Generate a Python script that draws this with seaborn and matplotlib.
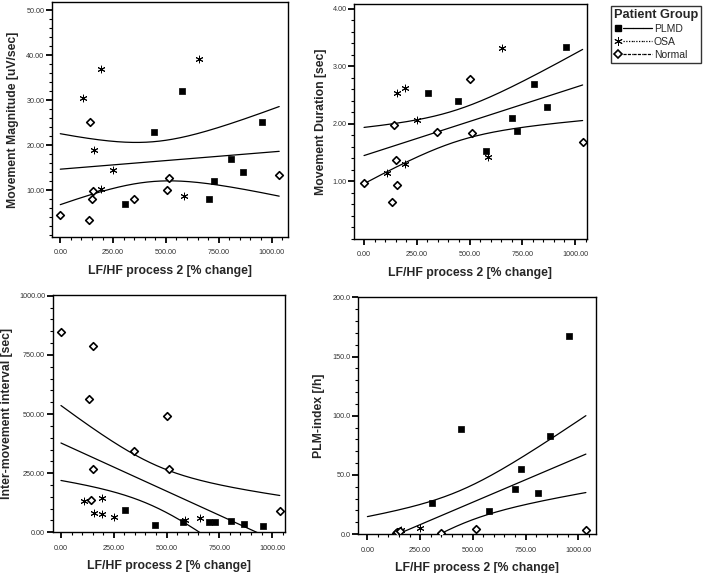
import numpy as np
import pandas as pd
import matplotlib
matplotlib.use("Agg")
import matplotlib.pyplot as plt
import seaborn as sns
from matplotlib.lines import Line2D
from matplotlib.legend_handler import HandlerTuple
from matplotlib.ticker import MultipleLocator, FormatStrFormatter

# LF/HF process 2 [% change] for each subject
plmd_x = [305, 445, 578, 702, 727, 807, 866, 956]
osa_x = [107, 158, 192, 192, 249, 586, 656]
normal_x = [0, 134, 142, 150, 154, 348, 504, 513, 1036]

# Movement Magnitude [uV/sec]
plmd_mag = [7.0, 23.0, 32.0, 8.0, 12.0, 17.0, 14.1, 25.1]
osa_mag = [30.5, 19.0, 37.0, 10.2, 14.4, 8.8, 39.1]
normal_mag = [4.5, 3.3, 25.1, 8.1, 9.9, 8.1, 10.1, 12.6, 13.3]

# Movement Duration [sec]
plmd_dur = [2.53, 2.39, 1.52, 2.11, 1.88, 2.69, 2.30, 3.34]
osa_dur = [1.14, 2.54, 2.62, 1.30, 2.07, 1.42, 3.31]
normal_dur = [0.97, 0.65, 1.98, 1.37, 0.93, 1.86, 2.77, 1.84, 1.68]

# Inter-movement interval [sec]
plmd_imi = [96, 30, 45, 44, 44, 49, 34, 27]
osa_imi = [134, 80, 144, 78, 66, 52, 62]
normal_imi = [848, 563, 137, 789, 269, 342, 490, 269, 92]

# PLM-index [/h]
plmd_plm = [26.2, 88.7, 19.2, 38.0, 54.6, 34.6, 83.1, 167.0]
osa_plm = [0, 3.5, 0, 0, 4.8, 0, 0]
normal_plm = [0, 0.5, 1.5, 0, 2.5, 0.8, 0, 4.5, 3.1]

groups = ["PLMD", "OSA", "Normal"]

df = pd.DataFrame({
    "group": ["PLMD"] * len(plmd_x) + ["OSA"] * len(osa_x) + ["Normal"] * len(normal_x),
    "lfhf": plmd_x + osa_x + normal_x,
    "mag": plmd_mag + osa_mag + normal_mag,
    "dur": plmd_dur + osa_dur + normal_dur,
    "imi": plmd_imi + osa_imi + normal_imi,
    "plm": plmd_plm + osa_plm + normal_plm,
})

marker_style = {
    "PLMD": dict(marker="s", s=20, color="black", edgecolor="black", linewidth=0.5),
    "OSA": dict(marker=(6, 2, 0), s=24, color="black", edgecolor="black", linewidth=0.7),
    "Normal": dict(marker="D", s=15, color="white", edgecolor="black", linewidth=1.2),
}

panels = [
    # column, ylabel, axes rect, xlim, ylim, major, minor, fmt, ylabel x
    ("mag", "Movement Magnitude [uV/sec]", [0.0739, 0.5864, 0.335, 0.410], (-39, 1077), (-0.4, 51.8), 10, 2, "%.2f", -0.140),
    ("dur", "Movement Duration [sec]", [0.5033, 0.5829, 0.330, 0.410], (-46, 1055), (0, 4.08), 1, 0.2, "%.2f", -0.118),
    ("imi", "Inter-movement interval [sec]", [0.0749, 0.0710, 0.330, 0.414], (-39, 1061), (0, 1003), 250, 50, "%.2f", -0.171),
    ("plm", "PLM-index [/h]", [0.509, 0.068, 0.337, 0.413], (-43, 1082), (0, 200), 50, 10, "%.1f", -0.140),
]


def t975(dof):
    # t quantile (0.975) via Cornish-Fisher expansion
    z = 1.959964
    return (z + (z**3 + z) / (4 * dof) + (5 * z**5 + 16 * z**3 + 3 * z) / (96 * dof**2)
            + (3 * z**7 + 19 * z**5 + 17 * z**3 - 15 * z) / (384 * dof**3))


def fit_lines(ax, x, y):
    # linear fit with 95% CI of the mean
    n = len(x)
    b, a = np.polyfit(x, y, 1)
    xs = np.linspace(x.min(), x.max(), 200)
    yhat = a + b * xs
    s = np.sqrt(np.sum((y - (a + b * x)) ** 2) / (n - 2))
    se = s * np.sqrt(1 / n + (xs - x.mean()) ** 2 / np.sum((x - x.mean()) ** 2))
    t = t975(n - 2)
    for yy in (yhat, yhat - t * se, yhat + t * se):
        sns.lineplot(x=xs, y=yy, color="black", lw=0.9, ax=ax, legend=False, estimator=None)


sns.set_style("ticks")
plt.rcParams["font.family"] = ["Liberation Sans", "DejaVu Sans"]

fig = plt.figure(figsize=(7.04, 5.73), dpi=100)

for col, ylabel, rect, xlim, ylim, major, minor, fmt, ylab_x in panels:
    ax = fig.add_axes(rect)
    fit_lines(ax, df["lfhf"].to_numpy(float), df[col].to_numpy(float))
    for g in groups:
        sub = df[df["group"] == g]
        # points lying on the x axis are hidden, as in the original
        sub = sub[sub[col] > ylim[0]]
        sns.scatterplot(data=sub, x="lfhf", y=col, ax=ax, legend=False, zorder=3, **marker_style[g])
    ax.set_xlim(*xlim)
    ax.set_ylim(*ylim)
    ax.xaxis.set_major_locator(MultipleLocator(250))
    ax.xaxis.set_minor_locator(MultipleLocator(50))
    ax.xaxis.set_major_formatter(FormatStrFormatter("%.2f"))
    ax.yaxis.set_major_locator(MultipleLocator(major))
    ax.yaxis.set_minor_locator(MultipleLocator(minor))
    ax.yaxis.set_major_formatter(FormatStrFormatter(fmt))
    if col == "mag":
        ax.set_yticks([10, 20, 30, 40, 50])
    if col == "dur":
        ax.set_yticks([1, 2, 3, 4])
    ax.tick_params(which="major", direction="out", length=4, width=1.3, labelsize=5.2,
                   labelcolor="#333333", color="black")
    ax.tick_params(axis="x", which="major", pad=5)
    ax.tick_params(axis="y", which="major", pad=1.5)
    ax.tick_params(which="minor", direction="out", length=2, width=0.8, color="black")
    for sp in ax.spines.values():
        sp.set_visible(True)
        sp.set_linewidth(1.0)
        sp.set_color("black")
    ax.set_xlabel("LF/HF process 2 [% change]", fontsize=8.8, fontweight="bold", labelpad=6)
    ax.set_ylabel(ylabel, fontsize=8.8, fontweight="bold")
    ax.yaxis.set_label_coords(ylab_x, 0.5)

# legend: marker followed by the group line style
ls_map = {"PLMD": "-", "OSA": (0, (1, 1.2)), "Normal": (0, (2.5, 1))}
mk_map = {
    "PLMD": dict(marker="s", markersize=5, markerfacecolor="black", markeredgecolor="black"),
    "OSA": dict(marker=(6, 2, 0), markersize=6, markeredgecolor="black", markeredgewidth=0.7),
    "Normal": dict(marker="D", markersize=4.5, markerfacecolor="white", markeredgecolor="black", markeredgewidth=1.2),
}
handles = []
for g in groups:
    mk = Line2D([], [], ls="none", **mk_map[g])
    ln = Line2D([], [], color="black", lw=0.9, ls=ls_map[g])
    handles.append((mk, ln, ln, ln))

leg = fig.legend(handles, groups, loc="upper left", bbox_to_anchor=(0.868, 0.9895),
                 borderaxespad=0, title="Patient Group",
                 handler_map={tuple: HandlerTuple(ndivide=None, pad=0)},
                 handlelength=3.7, handletextpad=0.15, labelspacing=0.3, borderpad=0.25,
                 fontsize=7.5, title_fontproperties={"weight": "bold", "size": 9.2},
                 frameon=True, fancybox=False, edgecolor="black", alignment="left")
leg.get_frame().set_linewidth(1.0)

fig.savefig("out.png", dpi=100)
